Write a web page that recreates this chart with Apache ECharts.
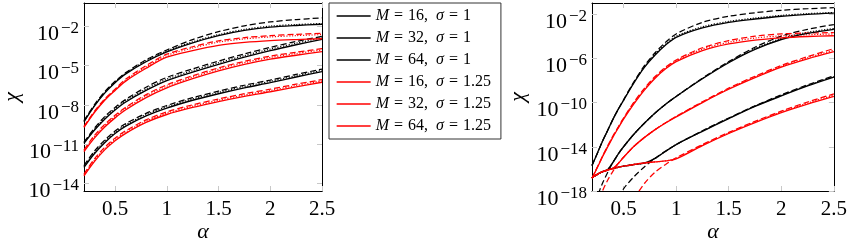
<!DOCTYPE html>
<html><head><meta charset="utf-8">
<script src="https://cdn.jsdelivr.net/npm/echarts@6/dist/echarts.min.js"></script>
<style>html,body{margin:0;padding:0;background:#fff}#c{width:850px;height:248px}</style>
</head><body><div id="c"></div>
<script>
// ---------- data (log10 of chi) ----------
const legendNames = ['M = 16, σ = 1','M = 32, σ = 1','M = 64, σ = 1','M = 16, σ = 1.25','M = 32, σ = 1.25','M = 64, σ = 1.25'];
const xTicks = [0.5, 1, 1.5, 2, 2.5];
const yTicksL = [-14, -11, -8, -5, -2];
const yTicksR = [-18, -14, -10, -6, -2];

// left panel
const xL = [0.2,0.3,0.4,0.5,0.6,0.8,1.0,1.25,1.5,1.75,2.0,2.25,2.5];
const L_b16 = [-9.3,-8.1,-7.1,-6.3,-5.65,-4.7,-3.95,-3.25,-2.7,-2.3,-2.05,-1.92,-1.83];
const L_b16_dash = [-9.2,-8.0,-7.0,-6.2,-5.55,-4.55,-3.8,-3.0,-2.4,-1.95,-1.65,-1.47,-1.34];
const L_b16_dot = [-9.25,-8.05,-7.05,-6.25,-5.6,-4.63,-3.87,-3.17,-2.62,-2.22,-1.97,-1.85,-1.77];
const L_b32 = [-10.95,-9.95,-9.1,-8.4,-7.8,-6.9,-6.15,-5.5,-4.9,-4.35,-3.85,-3.4,-2.98];
const L_b32_dash = [-10.85,-9.8,-8.9,-8.2,-7.6,-6.65,-5.9,-5.25,-4.65,-4.1,-3.6,-3.15,-2.75];
const L_b32_dot = [-10.9,-9.88,-9.0,-8.3,-7.7,-6.78,-6.03,-5.38,-4.78,-4.23,-3.73,-3.28,-2.86];
const L_b64 = [-12.79,-11.75,-10.9,-10.2,-9.65,-8.85,-8.25,-7.65,-7.15,-6.7,-6.3,-5.87,-5.46];
const L_b64_dash = [-12.65,-11.55,-10.7,-10.0,-9.45,-8.65,-8.05,-7.45,-6.95,-6.5,-6.1,-5.67,-5.26];
const L_b64_dot = [-12.72,-11.65,-10.8,-10.1,-9.55,-8.75,-8.15,-7.55,-7.05,-6.6,-6.2,-5.77,-5.36];
const L_r16 = [-9.73,-8.6,-7.65,-6.9,-6.2,-5.2,-4.35,-3.85,-3.45,-3.22,-3.08,-3.0,-2.94];
const L_r16_dash = [-9.65,-8.5,-7.55,-6.8,-6.05,-5.0,-4.12,-3.55,-3.1,-2.85,-2.7,-2.6,-2.52];
const L_r16_dot = [-9.69,-8.55,-7.6,-6.85,-6.12,-5.1,-4.22,-3.65,-3.2,-2.95,-2.8,-2.7,-2.62];
const L_r32 = [-11.58,-10.55,-9.7,-9.0,-8.4,-7.45,-6.7,-6.0,-5.4,-4.9,-4.5,-4.2,-3.93];
const L_r32_dash = [-11.45,-10.35,-9.5,-8.8,-8.2,-7.22,-6.47,-5.77,-5.17,-4.67,-4.27,-3.97,-3.7];
const L_r32_dot = [-11.5,-10.43,-9.58,-8.88,-8.28,-7.32,-6.57,-5.87,-5.27,-4.77,-4.37,-4.07,-3.8];
const L_r64 = [-13.44,-12.35,-11.45,-10.75,-10.2,-9.35,-8.74,-8.2,-7.75,-7.35,-7.0,-6.62,-6.27];
const L_r64_dash = [-13.3,-12.15,-11.25,-10.55,-10.0,-9.15,-8.54,-8.0,-7.55,-7.15,-6.8,-6.42,-6.07];
const L_r64_dot = [-13.36,-12.25,-11.35,-10.65,-10.1,-9.25,-8.64,-8.1,-7.65,-7.25,-6.9,-6.52,-6.17];

// right panel
const xR = [0.2,0.25,0.3,0.35,0.4,0.45,0.5,0.6,0.7,0.8,0.9,1.0,1.25,1.5,1.75,2.0,2.25,2.5];
const R_b16 = [-15.7,-14.6,-13.5,-12.5,-11.5,-10.6,-9.8,-8.2,-6.8,-5.7,-4.8,-4.1,-3.25,-2.75,-2.45,-2.2,-2.03,-1.92];
const R_b16_dash = [-15.7,-14.6,-13.5,-12.5,-11.5,-10.6,-9.75,-8.1,-6.65,-5.5,-4.55,-3.8,-2.75,-2.2,-1.88,-1.66,-1.52,-1.42];
const R_b16_dot = [-15.7,-14.6,-13.5,-12.5,-11.5,-10.6,-9.8,-8.15,-6.75,-5.63,-4.72,-4.0,-3.15,-2.66,-2.36,-2.12,-1.96,-1.86];
const R_r16 = [-16.85,-15.9,-14.9,-14.0,-13.1,-12.3,-11.5,-10.1,-8.85,-7.8,-6.95,-6.3,-5.3,-4.7,-4.35,-4.15,-4.03,-3.96];
const R_r16_dash = [-16.85,-15.85,-14.85,-13.9,-13.0,-12.2,-11.4,-9.95,-8.7,-7.65,-6.8,-6.15,-5.05,-4.4,-4.0,-3.8,-3.72,-3.67];
const R_r16_dot = [-16.85,-15.88,-14.88,-13.95,-13.05,-12.25,-11.45,-10.02,-8.78,-7.72,-6.88,-6.22,-5.17,-4.55,-4.17,-3.97,-3.87,-3.8];
const R_b32 = [-16.8,-16.5,-16.25,-16.05,-15.4,-14.65,-14.0,-12.85,-11.85,-10.95,-10.15,-9.45,-7.85,-6.4,-5.2,-4.3,-3.75,-3.39];
const R_b32_dash = [-19.8,-18.5,-17.3,-16.3,-15.4,-14.65,-14.0,-12.85,-11.85,-10.95,-10.15,-9.45,-7.8,-6.3,-5.0,-4.0,-3.38,-2.95];
const R_b32_dot = [-16.8,-16.5,-16.25,-16.05,-15.4,-14.65,-14.0,-12.85,-11.85,-10.95,-10.15,-9.45,-7.82,-6.35,-5.12,-4.2,-3.65,-3.3];
const R_r32 = [-16.8,-16.5,-16.25,-16.1,-15.95,-15.5,-14.95,-13.95,-13.15,-12.45,-11.85,-11.3,-10.0,-8.8,-7.75,-6.8,-6.05,-5.4];
const R_r32_dash = [null,-19.5,-18.0,-17.0,-16.2,-15.5,-14.95,-13.95,-13.15,-12.45,-11.82,-11.25,-9.93,-8.7,-7.62,-6.65,-5.85,-5.12];
const R_r32_dot = [-16.8,-16.5,-16.25,-16.1,-15.95,-15.5,-14.95,-13.95,-13.15,-12.45,-11.83,-11.27,-9.96,-8.75,-7.68,-6.72,-5.95,-5.26];
const R_b64 = [-16.8,-16.5,-16.25,-16.1,-15.95,-15.85,-15.75,-15.6,-15.47,-15.05,-14.4,-13.8,-12.6,-11.45,-10.35,-9.4,-8.5,-7.71];
const R_b64_dash = [null,null,null,null,null,-18.6,-17.8,-16.7,-15.8,-15.05,-14.4,-13.8,-12.55,-11.4,-10.3,-9.3,-8.4,-7.58];
const R_b64_dot = [-16.8,-16.5,-16.25,-16.1,-15.95,-15.85,-15.75,-15.6,-15.47,-15.05,-14.4,-13.8,-12.58,-11.42,-10.32,-9.35,-8.45,-7.64];
const R_r64 = [-16.8,-16.5,-16.25,-16.1,-15.95,-15.85,-15.75,-15.6,-15.47,-15.37,-15.28,-15.1,-13.9,-12.8,-11.82,-10.92,-10.15,-9.45];
const R_r64_dash = [null,null,null,null,null,null,null,-18.7,-17.3,-16.3,-15.6,-15.0,-13.8,-12.7,-11.7,-10.78,-9.95,-9.22];
const R_r64_dot = [-16.8,-16.5,-16.25,-16.1,-15.95,-15.85,-15.75,-15.6,-15.47,-15.37,-15.28,-15.05,-13.85,-12.75,-11.76,-10.85,-10.05,-9.33];

// ---------- chart ----------
const FONT = 'Liberation Serif';
const BLACK = '#000000', RED = '#ff0000';
const chart = echarts.init(document.getElementById('c'), null, {renderer: 'canvas'});

function mk(name, xs, ys, color, style, g) {
  let lt = 'solid', w = 1.35;
  if (style === 'dash') { lt = [6, 3]; w = 1.25; }
  if (style === 'dot') { lt = [1.2, 1.6]; w = 1.15; }
  return {
    type: 'line', name: name, xAxisIndex: g * 2, yAxisIndex: g * 2,
    data: xs.map((x, i) => [x, ys[i]]),
    symbol: 'none', showSymbol: false, smooth: 0.3,
    lineStyle: {color: color, width: w, type: lt}, itemStyle: {color: color},
    silent: true, animation: false, clip: true,
    z: style === 'solid' ? 3 : 2
  };
}
const groups = [
  [legendNames[0], BLACK, L_b16, L_b16_dash, L_b16_dot, R_b16, R_b16_dash, R_b16_dot],
  [legendNames[1], BLACK, L_b32, L_b32_dash, L_b32_dot, R_b32, R_b32_dash, R_b32_dot],
  [legendNames[2], BLACK, L_b64, L_b64_dash, L_b64_dot, R_b64, R_b64_dash, R_b64_dot],
  [legendNames[3], RED, L_r16, L_r16_dash, L_r16_dot, R_r16, R_r16_dash, R_r16_dot],
  [legendNames[4], RED, L_r32, L_r32_dash, L_r32_dot, R_r32, R_r32_dash, R_r32_dot],
  [legendNames[5], RED, L_r64, L_r64_dash, L_r64_dot, R_r64, R_r64_dash, R_r64_dot]
];
const series = [];
groups.forEach((g, k) => {
  series.push(mk(g[0], xL, g[2], g[1], 'solid', 0));
  series.push(mk('Ld' + k, xL, g[3], g[1], 'dash', 0));
  series.push(mk('Lp' + k, xL, g[4], g[1], 'dot', 0));
  series.push(mk(g[0], xR, g[5], g[1], 'solid', 1));
  series.push(mk('Rd' + k, xR, g[6], g[1], 'dash', 1));
  series.push(mk('Rp' + k, xR, g[7], g[1], 'dot', 1));
});

const tickStyle = {show: true, inside: true, length: 5, lineStyle: {color: '#c8c8c8', width: 1}};
const axLine = {show: true, onZero: false, lineStyle: {color: '#000', width: 1}};
const expRich = {
  b: {fontFamily: FONT, fontSize: 22, color: '#000', verticalAlign: 'bottom', lineHeight: 25},
  s: {fontFamily: FONT, fontSize: 17, color: '#000', verticalAlign: 'top', lineHeight: 15, padding: [0, 0, 0, 2]}
};
function expFmt(v) { return '{b|10}{s|' + (v < 0 ? '\u2212' : '') + Math.abs(v) + '}'; }

function xAx(g, pos, main) {
  return {
    type: 'value', gridIndex: g, position: pos, min: 0.2, max: 2.5,
    axisLine: axLine, splitLine: {show: false},
    axisTick: Object.assign({customValues: xTicks}, tickStyle),
    axisLabel: main ? {show: true, customValues: xTicks, margin: 8, fontFamily: FONT, fontSize: 21, color: '#000', formatter: v => String(v)} : {show: false},
    name: main ? 'α' : '', nameLocation: 'middle', nameGap: 30, nameMoveOverlap: false,
    nameTextStyle: {fontFamily: FONT, fontStyle: 'italic', fontSize: 22, color: '#000'}
  };
}
function yAx(g, pos, main, mn, mx, ticks, gap) {
  return {
    type: 'value', gridIndex: g, position: pos, min: mn, max: mx,
    axisLine: axLine, splitLine: {show: false},
    axisTick: Object.assign({customValues: ticks}, tickStyle),
    axisLabel: main ? {show: true, customValues: ticks, margin: 5, padding: [13, 0, 0, 0], formatter: expFmt, rich: expRich} : {show: false},
    name: main ? 'χ' : '', nameLocation: 'middle', nameGap: gap, nameRotate: 90, nameMoveOverlap: false,
    nameTextStyle: {fontFamily: FONT, fontStyle: 'italic', fontSize: 22, color: '#000'}
  };
}

const legRich = {
  i: {fontFamily: FONT, fontStyle: 'italic', fontSize: 16, color: '#000', lineHeight: 14},
  n: {fontFamily: FONT, fontSize: 16, color: '#000', lineHeight: 14},
  e: {fontFamily: FONT, fontSize: 16, color: '#000', lineHeight: 14, padding: [0, 5, 0, 5]}
};
function legFmt(name) {
  const parts = name.split(', ');
  const mVal = parts[0].replace('M = ', '');
  const sVal = (parts[1] || '').replace('σ = ', '');
  return '{i|M}{e|=}{n|' + mVal + ',  }{i|σ}{e|=}{n|' + sVal + '}';
}

chart.setOption({
  animation: false,
  backgroundColor: '#fff',
  grid: [
    {left: 79, right: 528, top: 3, bottom: 51, containLabel: false},
    {left: 592, right: 15, top: 3, bottom: 49, containLabel: false}
  ],
  xAxis: [xAx(0, 'bottom', true), xAx(0, 'top', false), xAx(1, 'bottom', true), xAx(1, 'top', false)],
  yAxis: [
    yAx(0, 'left', true, -14.6, -0.2, yTicksL, 61), yAx(0, 'right', false, -14.6, -0.2, yTicksL, 0),
    yAx(1, 'left', true, -18, -1, yTicksR, 63), yAx(1, 'right', false, -18, -1, yTicksR, 0)
  ],
  legend: {
    show: true,
    data: legendNames, orient: 'vertical', left: 329, top: 3,
    padding: [5, 10, 5, 7], itemWidth: 34, itemHeight: 14, itemGap: 6,
    borderColor: '#333', borderWidth: 1, backgroundColor: '#fff',
    selectedMode: false,
    itemStyle: {opacity: 0},
    lineStyle: {width: 1.3, opacity: 1},
    textStyle: {fontFamily: FONT, fontSize: 16, color: '#000', lineHeight: 14, rich: legRich},
    formatter: legFmt
  },
  series: series
});
</script></body></html>
